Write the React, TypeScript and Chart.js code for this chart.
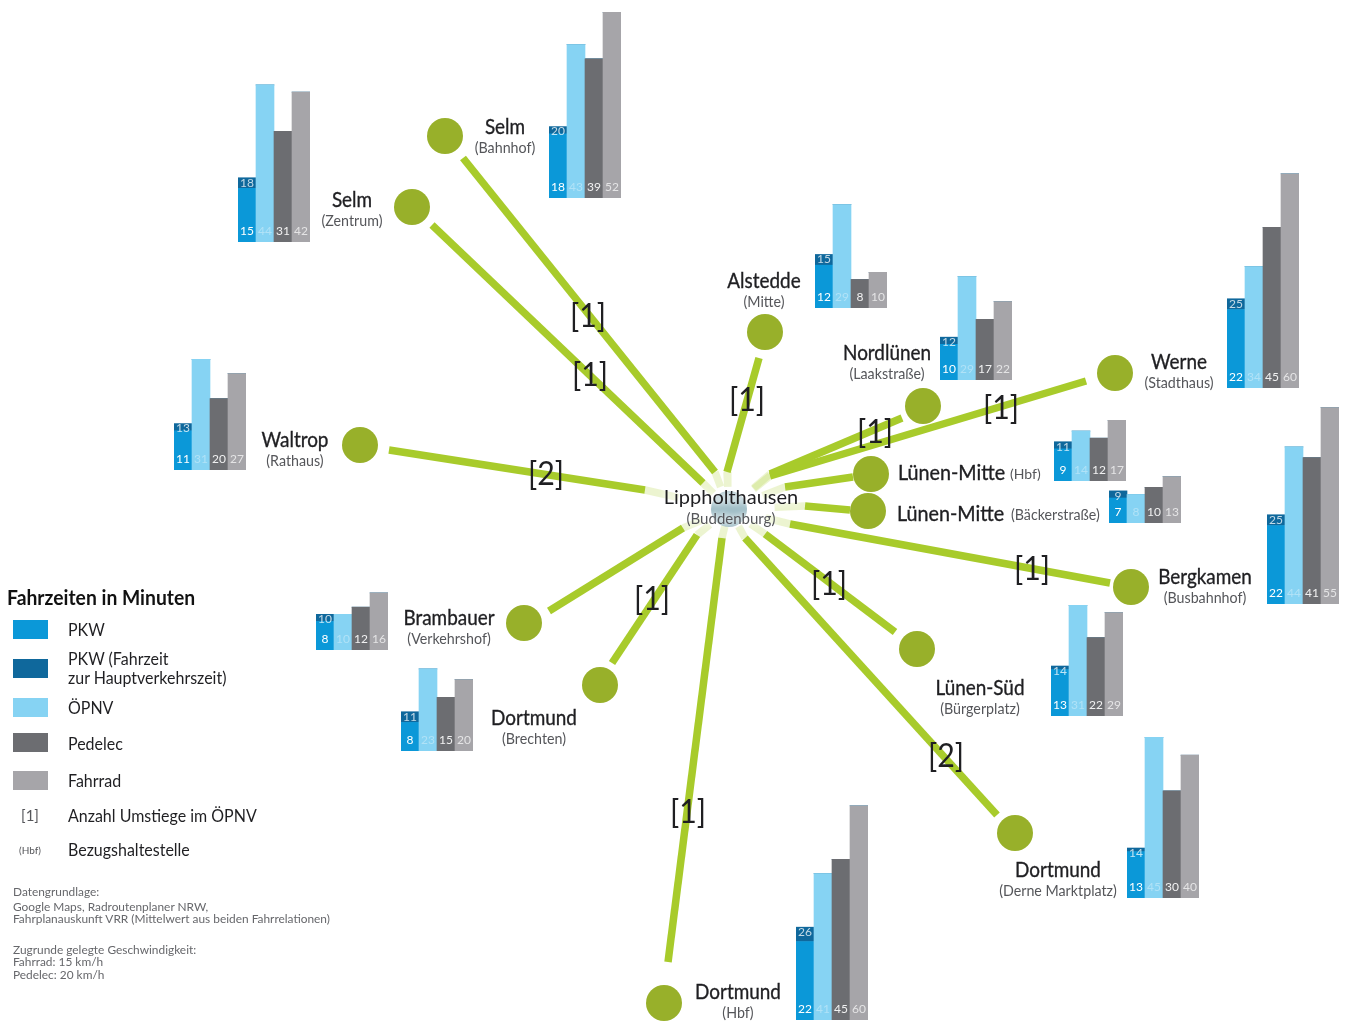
import React, { useEffect, useRef } from "react";
import { Chart, registerables } from "chart.js";

Chart.register(...registerables);

// ---------- data ----------
const modes = ["PKW", "ÖPNV", "Pedelec", "Fahrrad"];
const places = ["Selm Bahnhof", "Selm Zentrum", "Alstedde", "Nordlünen", "Werne", "Lünen-Mitte Hbf", "Lünen-Mitte Bäckerstraße", "Bergkamen", "Waltrop", "Brambauer", "Dortmund Brechten", "Lünen-Süd", "Dortmund Derne", "Dortmund Hbf"];
const pkw = [18, 15, 12, 10, 22, 9, 7, 22, 11, 8, 8, 13, 13, 22];
const pkwRush = [20, 18, 15, 12, 25, 11, 9, 25, 13, 10, 11, 14, 14, 26];
const oepnv = [43, 44, 29, 29, 34, 14, 8, 44, 31, 10, 23, 31, 45, 41];
const pedelec = [39, 31, 8, 17, 45, 12, 10, 41, 20, 12, 15, 22, 30, 45];
const fahrrad = [52, 42, 10, 22, 60, 17, 13, 55, 27, 16, 20, 29, 40, 60];

// network map positions (in map units of the scatter chart)
const stationX = [445, 412, 765, 923, 1115, 871, 868, 1131, 360, 524, 600, 917, 1015, 664];
const stationY = [136, 207, 332, 406, 373, 474, 511, 587, 445, 623, 685, 649, 833, 1003];
const routeOuterX = [463, 432, 759, 902, 1086, 853, 850, 1110, 389, 549, 612, 895, 997, 668];
const routeOuterY = [158, 225, 358, 418, 381, 477, 510, 583, 450, 611, 663, 632, 815, 962];
const routeInnerX = [715, 703, 727, 770, 770, 785, 805, 790, 645, 683, 697, 765, 745, 722];
const routeInnerY = [472, 483, 472, 474, 476, 487, 506, 524, 490, 528, 535, 534, 538, 538];
const hub = { x: 729, y: 509 };
const transfers = ["[1]", "[1]", "[1]", "[1]", "[1]", "", "", "[1]", "[2]", "", "[1]", "[1]", "[2]", "[1]"];

// ---------- layout ----------
const chartLeft = [549, 238, 815, 940, 1227, 1054, 1109, 1267, 174, 316, 401, 1051, 1127, 796];
const chartBase = [198, 242, 308, 380, 388, 481, 523, 604, 470, 650, 751, 716, 898, 1020];
const PX_PER_MIN = 3.57;
const CHART_W = 72;
const CHART_H = 222;

const transferPos = [[588, 317], [590, 376], [747, 401], [875, 433], [1001, 409], null, null, [1032, 570], [546, 475], null, [652, 600], [829, 585], [946, 757], [688, 813]];

const names = [
  { n: "Selm", s: "(Bahnhof)", x: 505, y: 127 },
  { n: "Selm", s: "(Zentrum)", x: 352, y: 200 },
  { n: "Alstedde", s: "(Mitte)", x: 764, y: 281 },
  { n: "Nordlünen", s: "(Laakstraße)", x: 887, y: 353 },
  { n: "Werne", s: "(Stadthaus)", x: 1179, y: 362 },
  { n: "Bergkamen", s: "(Busbahnhof)", x: 1205, y: 577 },
  { n: "Waltrop", s: "(Rathaus)", x: 295, y: 440 },
  { n: "Brambauer", s: "(Verkehrshof)", x: 449, y: 618 },
  { n: "Dortmund", s: "(Brechten)", x: 534, y: 718 },
  { n: "Lünen-Süd", s: "(Bürgerplatz)", x: 980, y: 688 },
  { n: "Dortmund", s: "(Derne Marktplatz)", x: 1058, y: 870 },
  { n: "Dortmund", s: "(Hbf)", x: 738, y: 992 },
];

const C = { pkw: "#0b98d8", rush: "#0f689c", oepnv: "#86d3f3", pedelec: "#6c6d71", fahrrad: "#a6a5a9", line: "#a8cb2b", station: "#98b02a", hub: "#9dbcc5", ink: "#1f1f22", sub: "#55565a" };
const FONT = "Lato, sans-serif";

const legendItems = [
  { t: ["PKW"], c: C.pkw, y: 620, ty: 630 },
  { t: ["PKW (Fahrzeit", "zur Hauptverkehrszeit)"], c: C.rush, y: 659, ty: 659 },
  { t: ["ÖPNV"], c: C.oepnv, y: 698, ty: 708 },
  { t: ["Pedelec"], c: C.pedelec, y: 733, ty: 744 },
  { t: ["Fahrrad"], c: C.fahrrad, y: 771, ty: 781 },
];
const notes = [
  ["Datengrundlage:", 893],
  ["Google Maps, Radroutenplaner NRW,", 908],
  ["Fahrplanauskunft VRR (Mittelwert aus beiden Fahrrelationen)", 920],
  ["Zugrunde gelegte Geschwindigkeit:", 951],
  ["Fahrrad: 15 km/h", 963],
  ["Pedelec: 20 km/h", 976],
];

// ---------- charts ----------
function NetworkChart() {
  const ref = useRef<HTMLCanvasElement>(null);
  useEffect(() => {
    const routes = stationX.map((_, i) => ({
      type: "scatter" as const,
      data: [{ x: routeOuterX[i], y: routeOuterY[i] }, { x: routeInnerX[i], y: routeInnerY[i] }],
      showLine: true,
      borderColor: C.line,
      borderWidth: 7.5,
      pointRadius: 0,
    }));
    const stubs = stationX.map((_, i) => ({
      type: "scatter" as const,
      data: [
        { x: routeInnerX[i], y: routeInnerY[i] },
        { x: routeInnerX[i] + (hub.x - routeInnerX[i]) * 0.4, y: routeInnerY[i] + (hub.y - routeInnerY[i]) * 0.4 },
      ],
      showLine: true,
      borderColor: "rgba(168,203,43,0.22)",
      borderWidth: 7.5,
      pointRadius: 0,
    }));
    const chart = new Chart(ref.current!, {
      type: "scatter",
      data: {
        datasets: [
          ...routes,
          ...stubs,
          { data: stationX.map((x, i) => ({ x, y: stationY[i] })), pointRadius: 18, pointBackgroundColor: C.station, pointBorderWidth: 0, showLine: false },
          { data: [hub], pointRadius: 18, pointBackgroundColor: C.hub, pointBorderWidth: 0, showLine: false },
        ],
      },
      options: {
        animation: false,
        responsive: false,
        layout: { padding: 0, autoPadding: false },
        plugins: { legend: { display: false }, tooltip: { enabled: false } },
        scales: {
          x: { type: "linear", min: 0, max: 1349, display: false },
          y: { type: "linear", min: 0, max: 1023, reverse: true, display: false },
        },
      },
    });
    return () => chart.destroy();
  }, []);
  return <canvas ref={ref} width={1349} height={1023} style={{ position: "absolute", left: 0, top: 0 }} />;
}

function MiniBars({ i }: { i: number }) {
  const ref = useRef<HTMLCanvasElement>(null);
  useEffect(() => {
    const base = [pkw[i], oepnv[i], pedelec[i], fahrrad[i]];
    const labelPlugin = {
      id: "valueLabels",
      afterDatasetsDraw(chart: any) {
        const { ctx, scales } = chart;
        const alpha = [1, 0.35, 0.9, 0.7];
        ctx.save();
        ctx.font = "12px " + FONT;
        ctx.textAlign = "center";
        ctx.textBaseline = "middle";
        base.forEach((v, k) => {
          ctx.fillStyle = `rgba(255,255,255,${alpha[k]})`;
          ctx.fillText(String(v), scales.x.getPixelForValue(k), scales.y.getPixelForValue(0) - 11);
        });
        ctx.fillStyle = "rgba(255,255,255,0.75)";
        ctx.fillText(String(pkwRush[i]), scales.x.getPixelForValue(0), scales.y.getPixelForValue(pkwRush[i]) + 5);
        ctx.restore();
      },
    };
    const chart = new Chart(ref.current!, {
      type: "bar",
      data: {
        labels: modes,
        datasets: [
          { label: places[i], data: base, backgroundColor: [C.pkw, C.oepnv, C.pedelec, C.fahrrad], barPercentage: 1, categoryPercentage: 1, borderWidth: 0 },
          { label: "PKW (Fahrzeit zur Hauptverkehrszeit)", data: [pkwRush[i] - pkw[i], 0, 0, 0], backgroundColor: C.rush, barPercentage: 1, categoryPercentage: 1, borderWidth: 0 },
        ],
      },
      options: {
        animation: false,
        responsive: false,
        layout: { padding: 0, autoPadding: false },
        plugins: { legend: { display: false }, tooltip: { enabled: false } },
        scales: {
          x: { stacked: true, display: false },
          y: { stacked: true, display: false, min: 0, max: CHART_H / PX_PER_MIN },
        },
      },
      plugins: [labelPlugin],
    });
    return () => chart.destroy();
  }, [i]);
  return <canvas ref={ref} width={CHART_W} height={CHART_H} style={{ position: "absolute", left: chartLeft[i], top: chartBase[i] - CHART_H }} />;
}

function T({ x, y, size, color, children, align = "center", weight = 400, shadow, sx = 1, stroke = 0 }: any) {
  const tr = (align === "center" ? "translate(-50%,-50%)" : "translate(0,-50%)") + ` scaleX(${sx})`;
  return (
    <div style={{ position: "absolute", left: x, top: y - size * 0.08, transform: tr, transformOrigin: align === "center" ? "center" : "left center", fontFamily: FONT, fontSize: size, color, whiteSpace: "nowrap", lineHeight: 1, fontWeight: weight, textShadow: shadow, WebkitTextStroke: stroke ? `${stroke}px ${color}` : undefined }}>
      {children}
    </div>
  );
}

export default function App() {
  const glow = "0 0 5px #fff, 0 0 9px #fff";
  return (
    <div style={{ position: "absolute", left: 0, top: 0, width: 1349, height: 1023, overflow: "hidden", background: "#fff" }}>
      <NetworkChart />
      {places.map((_, i) => <MiniBars key={i} i={i} />)}

      {names.map((p, i) => (
        <React.Fragment key={i}>
          <T x={p.x} y={p.y} size={21} color={C.ink} sx={0.9} stroke={0.35}>{p.n}</T>
          <T x={p.x} y={p.y + 21} size={15} color={C.sub} sx={0.95}>{p.s}</T>
        </React.Fragment>
      ))}
      <T x={898} y={473} size={21} color={C.ink} align="left" sx={0.94} stroke={0.35}>Lünen-Mitte</T>
      <T x={1010} y={475} size={14} color={C.sub} align="left">(Hbf)</T>
      <T x={897} y={514} size={21} color={C.ink} align="left" sx={0.94} stroke={0.35}>Lünen-Mitte</T>
      <T x={1011} y={516} size={14.5} color={C.sub} align="left" sx={0.98}>(Bäckerstraße)</T>
      <T x={731} y={498} size={20} color={C.ink} shadow={glow}>Lippholthausen</T>
      <T x={731} y={519} size={15} color={C.sub} shadow={glow}>(Buddenburg)</T>

      {transfers.map((t, i) => {
        const pos = transferPos[i];
        return pos ? <T key={i} x={pos[0]} y={pos[1]} size={33} color={C.ink} sx={0.92}>{t}</T> : null;
      })}

      <T x={7} y={598} size={21} color="#111" align="left" weight={700} sx={0.92}>Fahrzeiten in Minuten</T>
      {legendItems.map((l, i) => (
        <React.Fragment key={i}>
          <div style={{ position: "absolute", left: 13, top: l.y, width: 35, height: 19, background: l.c }} />
          {l.t.map((s, k) => <T key={k} x={68} y={l.ty + k * 19} size={17} color={C.ink} align="left" sx={0.94}>{s}</T>)}
        </React.Fragment>
      ))}
      <T x={30} y={816} size={15} color={C.sub}>[1]</T>
      <T x={68} y={816} size={17} color={C.ink} align="left" sx={0.94}>Anzahl Umstiege im ÖPNV</T>
      <T x={30} y={851} size={10} color={C.sub}>(Hbf)</T>
      <T x={68} y={850} size={17} color={C.ink} align="left" sx={0.94}>Bezugshaltestelle</T>
      {notes.map(([s, y], i) => <T key={i} x={13} y={y} size={12} color="#66676b" align="left" sx={0.99}>{s}</T>)}
    </div>
  );
}
